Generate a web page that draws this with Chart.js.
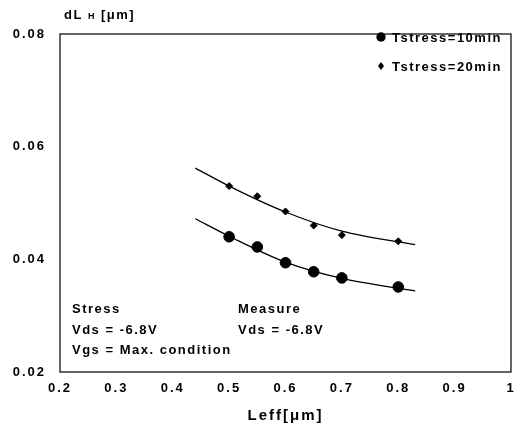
<!DOCTYPE html>
<html>
<head>
<meta charset="utf-8">
<script src="https://cdn.jsdelivr.net/npm/chart.js@4"></script>
<style>
  html, body { margin: 0; padding: 0; background: #fff; }
  #box { width: 520px; height: 429px; }
</style>
</head>
<body>
<div id="box"><canvas id="grafico"></canvas></div>
<script>
// dados
const leff = [0.5, 0.55, 0.6, 0.65, 0.7, 0.8];
const dl10 = [0.0440, 0.0422, 0.0394, 0.0378, 0.0367, 0.0351];
const dl20 = [0.0530, 0.0512, 0.0485, 0.0460, 0.0443, 0.0432];

// curvas ajustadas
const fitX = [0.44, 0.5, 0.6, 0.7, 0.83];
const fit10 = [0.0472, 0.0441, 0.0395, 0.0366, 0.0344];
const fit20 = [0.0562, 0.0530, 0.0484, 0.0450, 0.0426];

const xTicks = [0.2, 0.3, 0.4, 0.5, 0.6, 0.7, 0.8, 0.9, 1];
const yTicks = [0.02, 0.04, 0.06, 0.08];

const FAM = '"Liberation Sans", Arial, sans-serif';
const FONT = 'bold 13px ' + FAM;

const pts = (xs, ys) => xs.map((x, k) => ({ x: x, y: ys[k] }));

// moldura, legenda e textos
const extras = {
  id: 'extras',
  beforeUpdate(c) { c.ctx.letterSpacing = '2px'; },
  beforeDraw(c) { c.ctx.letterSpacing = '2px'; },
  afterDraw(c) {
    const ctx = c.ctx;
    const a = c.chartArea;
    ctx.save();
    ctx.strokeStyle = '#000';
    ctx.lineWidth = 1.2;
    ctx.strokeRect(a.left, a.top, a.right - a.left, a.bottom - a.top);

    ctx.fillStyle = '#000';
    ctx.font = FONT;
    ctx.textBaseline = 'middle';
    ctx.textAlign = 'left';
    ctx.letterSpacing = '1.5px';

    // titulo do eixo y
    ctx.fillText('dL', 64, 15);
    ctx.font = 'bold 9px ' + FAM;
    ctx.fillText('H', 88, 17);
    ctx.font = FONT;
    ctx.fillText('[\u03bcm]', 101, 15);

    // legenda
    ctx.beginPath();
    ctx.arc(381, 37, 4.7, 0, Math.PI * 2);
    ctx.fill();
    ctx.beginPath();
    ctx.moveTo(381, 62); ctx.lineTo(384, 66); ctx.lineTo(381, 70); ctx.lineTo(378, 66);
    ctx.closePath();
    ctx.fill();
    ctx.fillText('Tstress=10min', 392, 38);
    ctx.fillText('Tstress=20min', 392, 67);

    // condicoes
    ctx.fillText('Stress', 72, 309);
    ctx.fillText('Vds = -6.8V', 72, 330);
    ctx.fillText('Vgs = Max. condition', 72, 350);
    ctx.fillText('Measure', 238, 309);
    ctx.fillText('Vds = -6.8V', 238, 330);
    ctx.restore();
  }
};

const chart = new Chart(document.getElementById('grafico').getContext('2d'), {
  type: 'scatter',
  data: {
    datasets: [
      {
        label: 'Tstress=10min',
        data: pts(leff, dl10),
        pointStyle: 'circle',
        pointRadius: 5.3,
        backgroundColor: '#000',
        borderColor: '#000'
      },
      {
        label: 'Tstress=20min',
        data: pts(leff, dl20),
        pointStyle: 'rectRot',
        pointRadius: 3.5,
        backgroundColor: '#000',
        borderColor: '#000'
      },
      {
        label: 'fit10',
        data: pts(fitX, fit10),
        showLine: true,
        pointRadius: 0,
        borderColor: '#000',
        borderWidth: 1.3,
        cubicInterpolationMode: 'monotone'
      },
      {
        label: 'fit20',
        data: pts(fitX, fit20),
        showLine: true,
        pointRadius: 0,
        borderColor: '#000',
        borderWidth: 1.3,
        cubicInterpolationMode: 'monotone'
      }
    ]
  },
  options: {
    responsive: true,
    maintainAspectRatio: false,
    animation: false,
    layout: { padding: { top: 34, right: 9, left: 0, bottom: 0 } },
    plugins: {
      legend: { display: false },
      tooltip: { enabled: false }
    },
    scales: {
      x: {
        type: 'linear',
        min: 0.2,
        max: 1,
        afterBuildTicks: s => { s.ticks = xTicks.map(v => ({ value: v })); },
        afterFit: s => { s.height = 57; s.paddingLeft = 0; s.paddingRight = 0; },
        grid: { display: false, drawTicks: false },
        border: { display: false },
        ticks: {
          color: '#000',
          padding: 9,
          font: { family: FAM, size: 13, weight: 'bold' },
          callback: v => (v === 1 ? '1' : v.toFixed(1))
        },
        title: {
          display: true,
          text: 'Leff[\u03bcm]',
          color: '#000',
          padding: { top: 14 },
          font: { family: FAM, size: 15, weight: 'bold' }
        }
      },
      y: {
        min: 0.02,
        max: 0.08,
        afterBuildTicks: s => { s.ticks = yTicks.map(v => ({ value: v })); },
        afterFit: s => { s.width = 60; s.paddingTop = 0; s.paddingBottom = 0; },
        grid: { display: false, drawTicks: false },
        border: { display: false },
        ticks: {
          color: '#000',
          padding: 14,
          font: { family: FAM, size: 13, weight: 'bold' },
          callback: v => v.toFixed(2)
        }
      }
    }
  },
  plugins: [extras]
});
</script>
</body>
</html>
